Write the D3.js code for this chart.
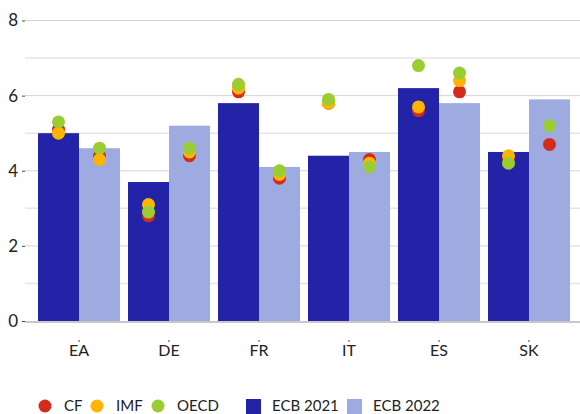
<!DOCTYPE html>
<html>
<head>
<meta charset="utf-8">
<script src="https://cdn.jsdelivr.net/npm/d3@7"></script>
<style>
  body { margin: 0; background: #fff; }
  text { font-family: Lato, "Open Sans", sans-serif; fill: #222; }
</style>
</head>
<body>
<div id="container"></div>
<script>
// data
const countries = ["EA", "DE", "FR", "IT", "ES", "SK"];
const years = ["ECB 2021", "ECB 2022"];
const ecb2021 = [5.0, 3.7, 5.8, 4.4, 6.2, 4.5];
const ecb2022 = [4.6, 5.2, 4.1, 4.5, 5.8, 5.9];
// forecasts: [2021 value, 2022 value] per country
const cf = [[5.1, 4.4], [2.8, 4.4], [6.1, 3.8], [5.8, 4.3], [5.6, 6.1], [4.3, 4.7]];
const imf = [[5.0, 4.3], [3.1, 4.5], [6.2, 3.9], [5.8, 4.2], [5.7, 6.4], [4.4, null]];
const oecd = [[5.3, 4.6], [2.9, 4.6], [6.3, 4.0], [5.9, 4.1], [6.8, 6.6], [4.2, 5.2]];
const yTicks = [0, 2, 4, 6, 8];
const yMinor = [1, 3, 5, 7];

const width = 580, height = 414;
const barColors = ["#2323a8", "#9eabe0"];
const dotSeries = [
  { name: "CF", values: cf, color: "#d52b1e" },
  { name: "IMF", values: imf, color: "#ffb400" },
  { name: "OECD", values: oecd, color: "#9acd32" }
];

const svg = d3.select("#container").append("svg")
  .attr("width", width)
  .attr("height", height);

const y = d3.scaleLinear().domain([0, 8]).range([321, 20.5]);
const x = d3.scaleBand().domain(countries).range([34, 574])
  .paddingInner(8 / 90).paddingOuter(4 / 90);
const x1 = d3.scaleBand().domain([0, 1]).range([0, x.bandwidth()]);

// gridlines
svg.selectAll(".minor").data(yMinor).join("line")
  .attr("x1", 25).attr("x2", 580)
  .attr("y1", d => y(d)).attr("y2", d => y(d))
  .attr("stroke", "#e6e6e6").attr("stroke-width", 1.5);
svg.selectAll(".major").data(yTicks.filter(d => d > 0)).join("line")
  .attr("x1", 25).attr("x2", 580)
  .attr("y1", d => y(d)).attr("y2", d => y(d))
  .attr("stroke", "#d4d4d4").attr("stroke-width", 1);

// y axis
const yAxis = svg.append("g").attr("transform", "translate(25,0)")
  .call(d3.axisLeft(y).tickValues(yTicks).tickSize(3).tickPadding(4));
yAxis.select(".domain").remove();
yAxis.selectAll("line").attr("stroke", "#444");
yAxis.selectAll("text").style("font-size", "17px").style("font-family", "Lato, sans-serif").attr("fill", "#222");

// bars
const groups = svg.selectAll(".grp").data(countries).join("g")
  .attr("transform", d => `translate(${x(d)},0)`);
groups.selectAll("rect")
  .data((d, i) => [ecb2021[i], ecb2022[i]])
  .join("rect")
  .attr("x", (d, j) => x1(j))
  .attr("width", x1.bandwidth())
  .attr("y", d => y(d))
  .attr("height", d => y(0) - y(d))
  .attr("fill", (d, j) => barColors[j]);

// baseline
svg.append("line")
  .attr("x1", 25).attr("x2", 580)
  .attr("y1", y(0) + 1).attr("y2", y(0) + 1)
  .attr("stroke", "#c8c8c8").attr("stroke-width", 2);

// dots
dotSeries.forEach(s => {
  const pts = [];
  countries.forEach((c, i) => {
    s.values[i].forEach((v, j) => {
      if (v != null) pts.push({ c, j, v });
    });
  });
  svg.append("g").selectAll("circle").data(pts).join("circle")
    .attr("cx", d => x(d.c) + x1(d.j) + x1.bandwidth() / 2)
    .attr("cy", d => y(d.v))
    .attr("r", 6.5)
    .attr("fill", s.color);
});

// x axis
const xAxis = svg.append("g").attr("transform", "translate(0,340)")
  .call(d3.axisBottom(x).tickSize(2).tickPadding(3));
xAxis.select(".domain").remove();
xAxis.selectAll("line").attr("stroke", "#444");
xAxis.selectAll("text").style("font-size", "16px").style("font-family", "Lato, sans-serif").attr("fill", "#222");

// legend
const legend = svg.append("g").attr("transform", "translate(0,406)");
const dotLegend = [
  { name: "CF", x: 45, color: dotSeries[0].color },
  { name: "IMF", x: 97, color: dotSeries[1].color },
  { name: "OECD", x: 158, color: dotSeries[2].color }
];
dotLegend.forEach(d => {
  legend.append("circle").attr("cx", d.x).attr("cy", 0).attr("r", 6.5).attr("fill", d.color);
  legend.append("text").attr("x", d.x + 19).attr("y", 0).attr("dy", "0.35em")
    .style("font-size", "15px").text(d.name);
});
const barLegend = [{ x: 246 }, { x: 347 }];
barLegend.forEach((d, j) => {
  legend.append("rect").attr("x", d.x).attr("y", -7).attr("width", 15).attr("height", 15).attr("fill", barColors[j]);
  legend.append("text").attr("x", d.x + 26).attr("y", 0).attr("dy", "0.35em")
    .style("font-size", "15px").text(years[j]);
});
</script>
</body>
</html>
